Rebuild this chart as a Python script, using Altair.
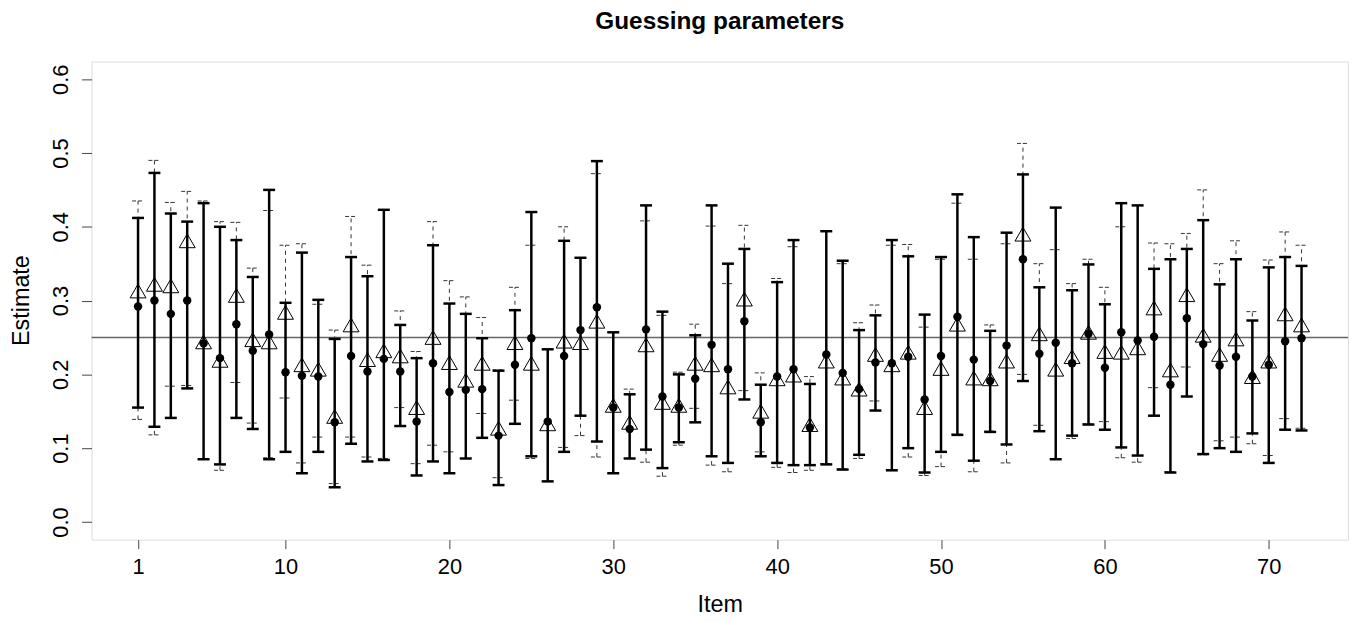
import altair as alt
import pandas as pd

# ---- data ----
items = list(range(1, 73))

# filled dots with solid intervals
dot_est = [0.292, 0.300, 0.282, 0.300, 0.242, 0.222, 0.268, 0.232, 0.254, 0.203,
           0.198, 0.197, 0.135, 0.225, 0.204, 0.221, 0.204, 0.136, 0.215, 0.176,
           0.179, 0.180, 0.117, 0.213, 0.249, 0.136, 0.225, 0.260, 0.291, 0.155,
           0.126, 0.261, 0.170, 0.155, 0.194, 0.240, 0.207, 0.272, 0.135, 0.197,
           0.207, 0.128, 0.227, 0.202, 0.180, 0.216, 0.215, 0.224, 0.166, 0.225,
           0.278, 0.220, 0.191, 0.239, 0.356, 0.228, 0.243, 0.215, 0.255, 0.209,
           0.257, 0.246, 0.251, 0.186, 0.276, 0.241, 0.212, 0.224, 0.197, 0.213,
           0.245, 0.249]
dot_lo = [0.155, 0.129, 0.141, 0.181, 0.085, 0.078, 0.141, 0.126, 0.085, 0.095,
          0.066, 0.095, 0.047, 0.106, 0.082, 0.084, 0.130, 0.063, 0.082, 0.066,
          0.086, 0.114, 0.050, 0.133, 0.089, 0.055, 0.095, 0.144, 0.109, 0.066,
          0.086, 0.098, 0.073, 0.108, 0.135, 0.089, 0.080, 0.166, 0.089, 0.080,
          0.077, 0.077, 0.078, 0.071, 0.091, 0.151, 0.070, 0.100, 0.067, 0.095,
          0.118, 0.083, 0.122, 0.105, 0.191, 0.123, 0.085, 0.117, 0.132, 0.125,
          0.101, 0.090, 0.144, 0.067, 0.170, 0.092, 0.100, 0.095, 0.120, 0.080,
          0.125, 0.124]
dot_hi = [0.412, 0.473, 0.418, 0.407, 0.432, 0.400, 0.382, 0.332, 0.450, 0.297,
          0.365, 0.301, 0.248, 0.359, 0.333, 0.423, 0.267, 0.222, 0.375, 0.296,
          0.282, 0.249, 0.205, 0.287, 0.420, 0.234, 0.381, 0.358, 0.489, 0.257,
          0.173, 0.429, 0.285, 0.200, 0.253, 0.429, 0.350, 0.370, 0.186, 0.325,
          0.382, 0.187, 0.394, 0.354, 0.260, 0.280, 0.382, 0.360, 0.281, 0.359,
          0.444, 0.386, 0.259, 0.392, 0.471, 0.318, 0.426, 0.314, 0.349, 0.295,
          0.432, 0.429, 0.343, 0.356, 0.370, 0.409, 0.322, 0.356, 0.273, 0.345,
          0.359, 0.347]

# open triangles with dashed intervals
tri_est = [0.313, 0.322, 0.320, 0.381, 0.244, 0.219, 0.307, 0.247, 0.244, 0.284,
           0.213, 0.207, 0.143, 0.267, 0.220, 0.232, 0.225, 0.155, 0.250, 0.216,
           0.192, 0.215, 0.127, 0.243, 0.215, 0.133, 0.245, 0.243, 0.272, 0.158,
           0.135, 0.240, 0.162, 0.158, 0.215, 0.213, 0.183, 0.302, 0.150, 0.194,
           0.199, 0.132, 0.218, 0.195, 0.180, 0.227, 0.213, 0.230, 0.155, 0.208,
           0.268, 0.195, 0.194, 0.218, 0.390, 0.255, 0.207, 0.224, 0.257, 0.231,
           0.230, 0.236, 0.290, 0.206, 0.308, 0.253, 0.227, 0.248, 0.197, 0.218,
           0.282, 0.267]
tri_lo = [0.139, 0.118, 0.184, 0.185, 0.085, 0.070, 0.189, 0.134, 0.087, 0.168,
          0.080, 0.115, 0.052, 0.115, 0.088, 0.086, 0.155, 0.079, 0.104, 0.095,
          0.086, 0.147, 0.060, 0.165, 0.086, 0.055, 0.101, 0.117, 0.088, 0.066,
          0.086, 0.081, 0.062, 0.104, 0.154, 0.077, 0.068, 0.178, 0.095, 0.074,
          0.067, 0.070, 0.079, 0.072, 0.086, 0.164, 0.071, 0.088, 0.063, 0.075,
          0.119, 0.068, 0.123, 0.080, 0.200, 0.131, 0.086, 0.113, 0.133, 0.136,
          0.087, 0.081, 0.182, 0.068, 0.210, 0.091, 0.110, 0.115, 0.106, 0.090,
          0.140, 0.127]
tri_hi = [0.435, 0.490, 0.433, 0.448, 0.435, 0.407, 0.406, 0.344, 0.422, 0.375,
          0.377, 0.295, 0.260, 0.414, 0.348, 0.423, 0.286, 0.231, 0.407, 0.327,
          0.305, 0.277, 0.206, 0.318, 0.375, 0.234, 0.400, 0.358, 0.472, 0.257,
          0.180, 0.408, 0.280, 0.203, 0.268, 0.401, 0.323, 0.402, 0.202, 0.330,
          0.373, 0.197, 0.395, 0.350, 0.270, 0.294, 0.375, 0.376, 0.264, 0.356,
          0.432, 0.356, 0.267, 0.377, 0.513, 0.350, 0.369, 0.323, 0.356, 0.318,
          0.400, 0.429, 0.378, 0.377, 0.391, 0.450, 0.350, 0.381, 0.285, 0.355,
          0.393, 0.375]

x_ticks = [1, 10, 20, 30, 40, 50, 60, 70]
y_ticks = [0.0, 0.1, 0.2, 0.3, 0.4, 0.5, 0.6]
ref_value = [0.25]

FONT = "Liberation Sans"

df = pd.DataFrame({
    "item": items,
    "dot_est": dot_est, "dot_lo": dot_lo, "dot_hi": dot_hi,
    "tri_est": tri_est, "tri_lo": tri_lo, "tri_hi": tri_hi,
})
ref_df = pd.DataFrame({"ref": ref_value})

x_enc = alt.X(
    "item:Q",
    scale=alt.Scale(domain=[-1.84, 74.84], nice=False, zero=False),
    axis=alt.Axis(
        values=x_ticks, format="d", grid=False, domain=False,
        tickSize=9, tickColor="#444", labelFontSize=22, labelFont=FONT,
        labelColor="black", labelPadding=8, labelBaseline="top",
        title="Item", titleFontSize=23.5, titleFont=FONT, titleFontWeight="normal",
        titleColor="black", titleX=632, titleY=65, titleBaseline="middle",
        titleAlign="center",
    ),
)
y_scale = alt.Scale(domain=[-0.024, 0.624], nice=False, zero=False)
y_axis = alt.Axis(
    values=y_ticks, format=".1f", grid=False, domain=False,
    tickSize=10, tickColor="#444", labelFontSize=22, labelFont=FONT,
    labelColor="black", labelAngle=270, labelAlign="center",
    labelBaseline="alphabetic", labelPadding=14,
    title="Estimate", titleFontSize=23.5, titleFont=FONT, titleFontWeight="normal",
    titleColor="black", titleAngle=270, titleX=-70, titleY=240,
    titleBaseline="middle", titleAlign="center",
)

base = alt.Chart(df)

ref = alt.Chart(ref_df).mark_rule(color="#666", strokeWidth=1.5).encode(
    y=alt.Y("ref:Q", scale=y_scale, axis=y_axis)
)

dash_bar = base.mark_rule(color="#333", strokeWidth=1, strokeDash=[4, 4]).encode(
    x=x_enc, y=alt.Y("tri_lo:Q", scale=y_scale, axis=y_axis), y2="tri_hi:Q"
)
dash_cap_hi = base.mark_rule(color="#333", strokeWidth=1, strokeDash=[4, 2],
                             xOffset=-6, x2Offset=6).encode(
    x=x_enc, x2="item:Q", y=alt.Y("tri_hi:Q", scale=y_scale, axis=y_axis)
)
dash_cap_lo = base.mark_rule(color="#333", strokeWidth=1, strokeDash=[4, 2],
                             xOffset=-6, x2Offset=6).encode(
    x=x_enc, x2="item:Q", y=alt.Y("tri_lo:Q", scale=y_scale, axis=y_axis)
)

solid_bar = base.mark_rule(color="black", strokeWidth=2.5).encode(
    x=x_enc, y=alt.Y("dot_lo:Q", scale=y_scale, axis=y_axis), y2="dot_hi:Q"
)
solid_cap_hi = base.mark_rule(color="black", strokeWidth=2.5,
                              xOffset=-6, x2Offset=6).encode(
    x=x_enc, x2="item:Q", y=alt.Y("dot_hi:Q", scale=y_scale, axis=y_axis)
)
solid_cap_lo = base.mark_rule(color="black", strokeWidth=2.5,
                              xOffset=-6, x2Offset=6).encode(
    x=x_enc, x2="item:Q", y=alt.Y("dot_lo:Q", scale=y_scale, axis=y_axis)
)

dots = base.mark_point(shape="circle", filled=True, size=72, color="black",
                       opacity=1).encode(
    x=x_enc, y=alt.Y("dot_est:Q", scale=y_scale, axis=y_axis)
)
tris = base.mark_point(shape="triangle-up", filled=False, size=256,
                       color="black", strokeWidth=1, opacity=1).encode(
    x=x_enc, y=alt.Y("tri_est:Q", scale=y_scale, axis=y_axis)
)

chart = alt.layer(
    ref, dash_bar, dash_cap_hi, dash_cap_lo,
    solid_bar, solid_cap_hi, solid_cap_lo, dots, tris,
).properties(
    width=1264,
    height=481,
    title=alt.TitleParams(
        "Guessing parameters", fontSize=24.5, fontWeight="bold", font=FONT,
        color="black", anchor="middle", offset=8, baseline="alphabetic",
    ),
    autosize=alt.AutoSizeParams(type="none"),
    padding={"left": 84, "top": 52, "right": 11, "bottom": 80},
).configure_view(
    stroke="#333", strokeWidth=1.2
).configure(background="white")

chart.save("out.html", embed_options={"renderer": "svg", "actions": False})
